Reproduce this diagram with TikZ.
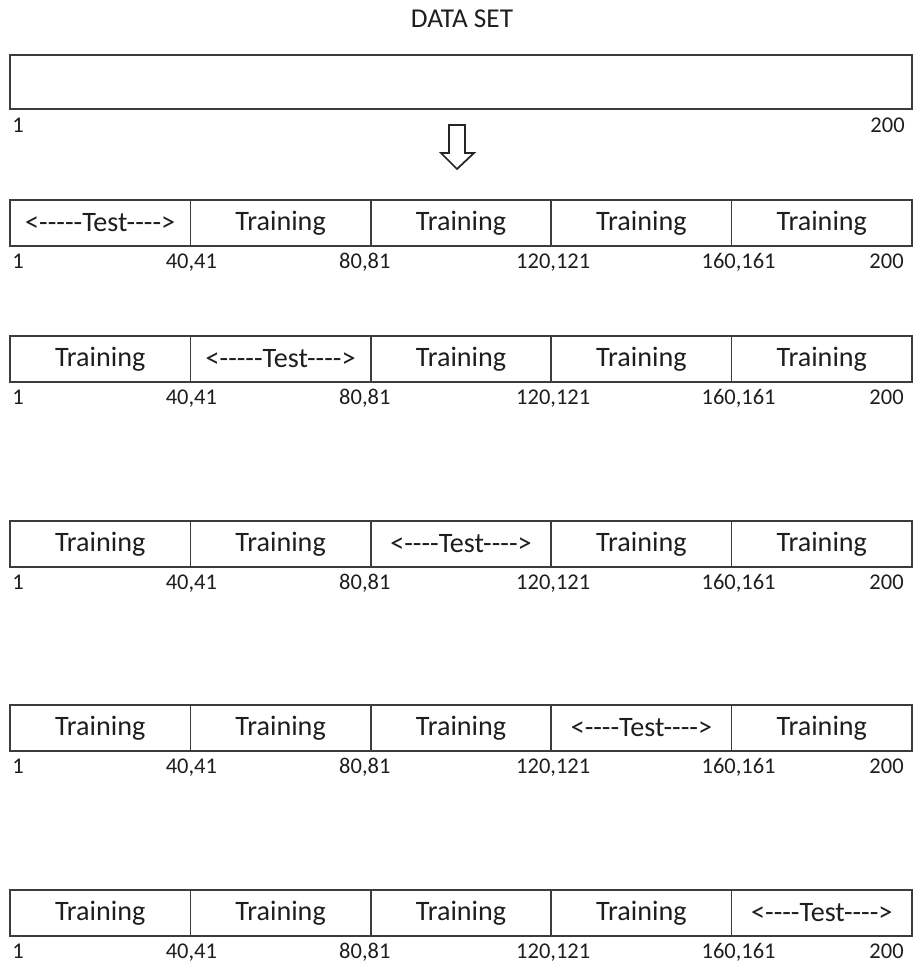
\documentclass[tikz,border=0pt]{standalone}
\usepackage{fontspec}
\setmainfont{Carlito}[Ligatures=TeXOff]
\usetikzlibrary{positioning}
\definecolor{boxline}{RGB}{60,60,60}
\definecolor{txtgray}{RGB}{30,30,30}

\begin{document}
\begin{tikzpicture}[
    x=0.2mm, y=-0.2mm,
    cell/.style={draw=boxline, line width=0.3mm, minimum width=36.08mm, minimum height=9.2mm,
        inner sep=0pt, outer sep=0pt, text=txtgray, font=\fontsize{16}{19}\selectfont},
    lbl/.style={text=txtgray, inner sep=0pt, font=\fontsize{12.8}{15}\selectfont},
    blockarrow/.style={draw=black!85, line width=0.35mm, fill=white, line join=miter}
]
\useasboundingbox (0,0) rectangle (914,961);

% Whole data set
\node[lbl, anchor=base, font=\fontsize{15.5}{18}\selectfont] (title) at (462,27) {DATA SET};
\node[cell, minimum width=180.4mm, minimum height=10.8mm] (dataset) at (461,82) {};
\node[lbl, anchor=base west, xshift=0.4mm, yshift=-4.6mm] (ds-first) at (dataset.south west) {1};
\node[lbl, anchor=base east, xshift=-1.4mm, yshift=-4.6mm] (ds-last) at (dataset.south east) {200};

% Split arrow
\coordinate (arrowtop) at (457,125);
\draw[blockarrow] (arrowtop) ++(-8,0) -- ++(16,0) -- ++(0,28) -- ++(9,0) -- ++(-17,16)
    -- ++(-16,-16) -- ++(8,0) -- cycle;

% Five folds, test part moves one step per row
\foreach \r/\ytop/\t/\ttxt in {1/200/1/{<-----Test---->}, 2/336/2/{<-----Test---->},
        3/521/3/{<----Test---->}, 4/705/4/{<----Test---->}, 5/890/5/{<----Test---->}} {
    \foreach \c in {1,...,5} {
        \ifnum\c=\t \def\celltxt{\ttxt}\else\def\celltxt{Training}\fi
        \node[cell] (cell-\r-\c) at ({10+180.4*(\c-0.5)},{\ytop+23}) {\celltxt};
    }
    \node[lbl, anchor=base west, xshift=0.4mm, yshift=-4.4mm] (first-\r) at (cell-\r-1.south west) {1};
    \node[lbl, anchor=base east, xshift=-1.6mm, yshift=-4.4mm] (last-\r) at (cell-\r-5.south east) {200};
    \foreach \c/\lbltxt/\dx in {1/{40,41}/0.2, 2/{80,81}/-1.2, 3/{120,121}/0.4, 4/{160,161}/1.4} {
        \node[lbl, anchor=base, xshift=\dx mm, yshift=-4.4mm] (bound-\r-\c) at (cell-\r-\c.south east) {\lbltxt};
    }
}
\end{tikzpicture}
\end{document}
